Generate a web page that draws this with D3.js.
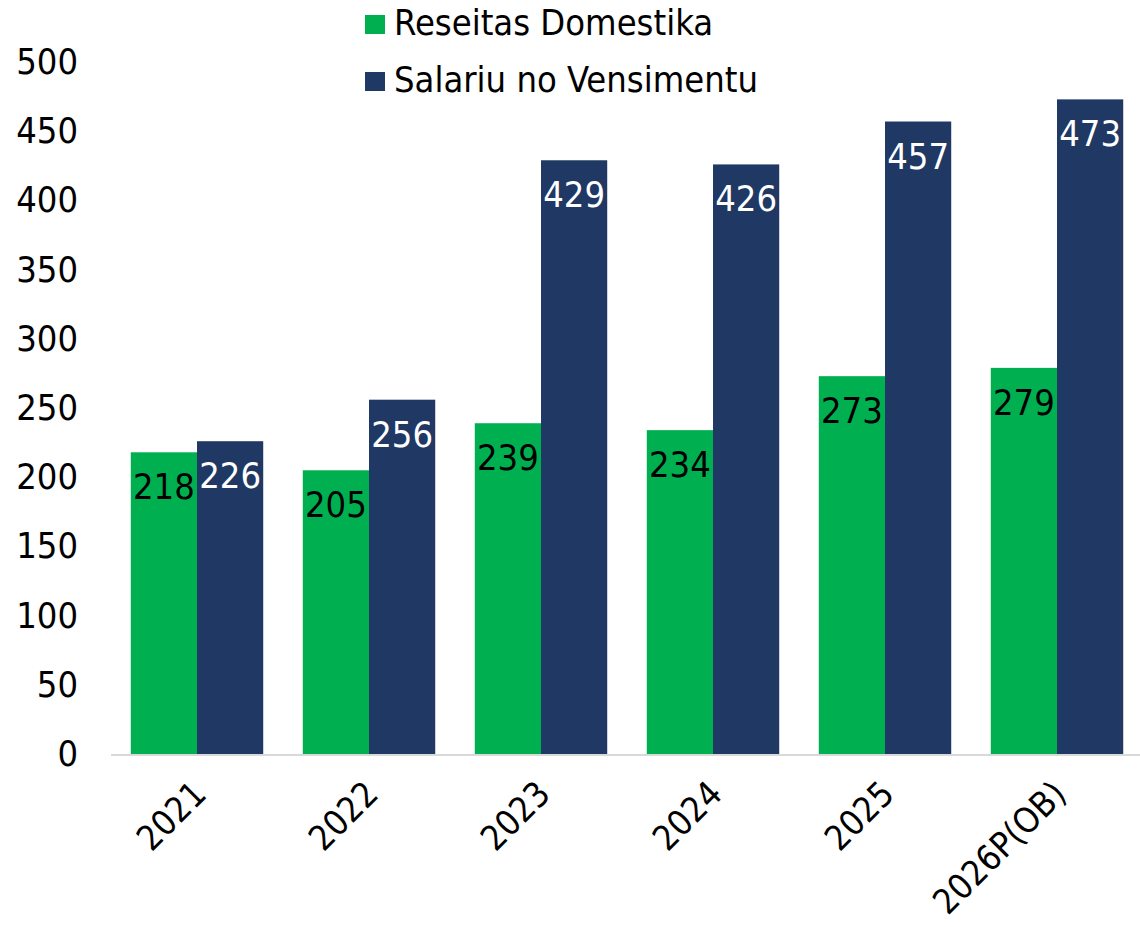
<!DOCTYPE html>
<html>
<head>
<meta charset="utf-8">
<script src="https://cdn.jsdelivr.net/npm/d3@7"></script>
<style>
  html, body { margin: 0; padding: 0; background: #fff; }
  svg text { font-family: "DejaVu Sans Condensed", "DejaVu Sans", sans-serif; }
</style>
</head>
<body>
<div id="chart"></div>
<script>
// Data
const years = ['2021', '2022', '2023', '2024', '2025', '2026P(OB)'];
const reseitas = [218, 205, 239, 234, 273, 279];
const salariu = [226, 256, 429, 426, 457, 473];
const seriesNames = ['Reseitas Domestika', 'Salariu no Vensimentu'];
const seriesColors = ['#00b050', '#203864'];
const yTicks = [0, 50, 100, 150, 200, 250, 300, 350, 400, 450, 500];

const width = 1140;
const height = 927;
const margin = { top: 62, right: -3, bottom: 173, left: 111 };

const svg = d3.select('#chart')
  .append('svg')
  .attr('width', width)
  .attr('height', height);

const x = d3.scaleBand()
  .domain(years)
  .range([margin.left, width - margin.right])
  .paddingInner(0.23)
  .paddingOuter(0.115);

const xSub = d3.scaleBand()
  .domain([0, 1])
  .range([0, x.bandwidth()]);

const y = d3.scaleLinear()
  .domain([0, 500])
  .range([height - margin.bottom, margin.top]);

// Y axis labels
const yAxis = svg.append('g')
  .attr('transform', `translate(${margin.left - 33},0)`)
  .call(d3.axisLeft(y).tickValues(yTicks).tickSize(0).tickPadding(0));
yAxis.select('.domain').remove();
yAxis.selectAll('text')
  .attr('font-size', '36px')
  .attr('fill', '#000')
  .style('font-family', '"DejaVu Sans Condensed", "DejaVu Sans", sans-serif');

// Bars
const series = [reseitas, salariu];
series.forEach((values, s) => {
  const g = svg.append('g');
  g.selectAll('rect')
    .data(values)
    .enter()
    .append('rect')
    .attr('x', (d, i) => x(years[i]) + xSub(s))
    .attr('y', d => y(d))
    .attr('width', xSub.bandwidth())
    .attr('height', d => y(0) - y(d))
    .attr('fill', seriesColors[s]);

  g.selectAll('text')
    .data(values)
    .enter()
    .append('text')
    .attr('x', (d, i) => x(years[i]) + xSub(s) + xSub.bandwidth() / 2)
    .attr('y', d => y(d) + 37)
    .attr('text-anchor', 'middle')
    .attr('dominant-baseline', 'middle')
    .attr('font-size', '36px')
    .attr('fill', s === 0 ? '#000' : '#fff')
    .text(d => d);
});

// X axis line
svg.append('line')
  .attr('x1', margin.left)
  .attr('x2', width)
  .attr('y1', y(0) + 1)
  .attr('y2', y(0) + 1)
  .attr('stroke', '#d9d9d9')
  .attr('stroke-width', 2);

// X labels rotated
svg.append('g')
  .selectAll('text')
  .data(years)
  .enter()
  .append('text')
  .attr('transform', d => `translate(${x(d) + x.bandwidth() / 2 + 4},${y(0) + 35}) rotate(-45)`)
  .attr('text-anchor', 'end')
  .attr('dominant-baseline', 'middle')
  .attr('font-size', '35px')
  .attr('fill', '#000')
  .text(d => d);

// Legend
const legend = svg.append('g')
  .attr('transform', 'translate(365,15)');
seriesNames.forEach((name, i) => {
  legend.append('rect')
    .attr('x', 0)
    .attr('y', i * 57)
    .attr('width', 20)
    .attr('height', 19)
    .attr('fill', seriesColors[i]);
  legend.append('text')
    .attr('x', 29)
    .attr('y', i * 57 + 10)
    .attr('dominant-baseline', 'middle')
    .attr('font-size', '36px')
    .attr('fill', '#000')
    .text(name);
});
</script>
</body>
</html>
